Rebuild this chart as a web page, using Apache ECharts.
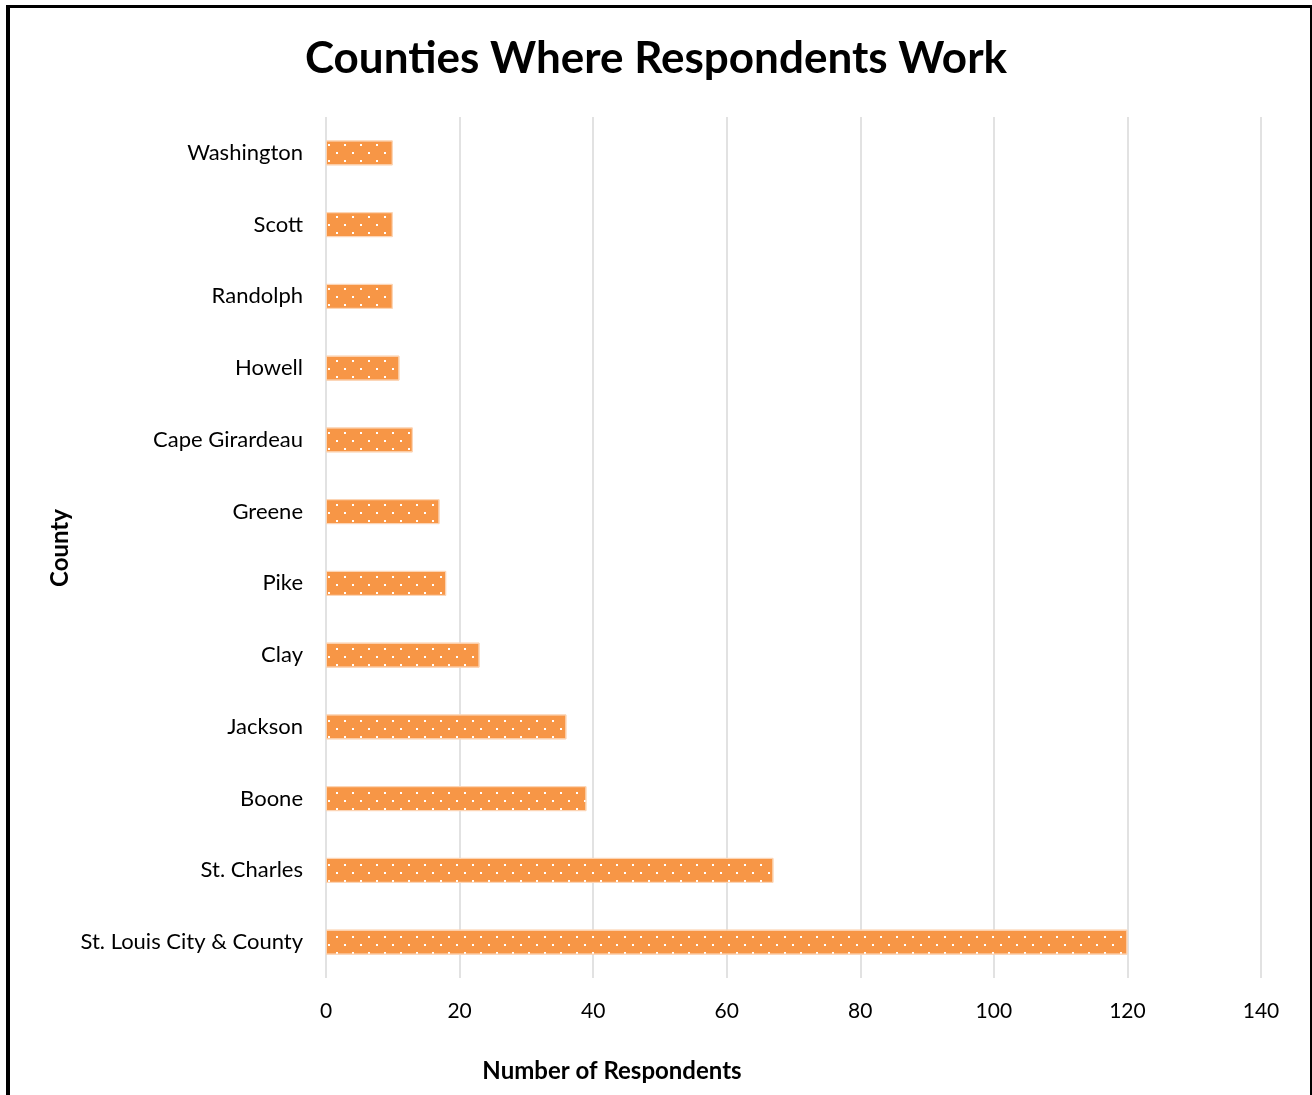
<!DOCTYPE html>
<html>
<head>
<meta charset="utf-8">
<script src="https://cdn.jsdelivr.net/npm/echarts@6/dist/echarts.min.js"></script>
<style>
  html, body { margin: 0; padding: 0; background: #fff; }
  #chart { width: 1312px; height: 1095px; }
  #frame {
    position: absolute; left: 6px; top: 5px; width: 1300px; height: 1088px;
    border-left: 4px solid #000; border-top: 3px solid #000;
    border-right: 4px solid #000; border-bottom: 1px solid #555;
    pointer-events: none;
  }
</style>
</head>
<body>
<div id="chart"></div>
<div id="frame"></div>
<script>
// counties, bottom to top (category axis starts at the bottom)
const counties = ['St. Louis City & County', 'St. Charles', 'Boone', 'Jackson', 'Clay', 'Pike',
  'Greene', 'Cape Girardeau', 'Howell', 'Randolph', 'Scott', 'Washington'];
const respondents = [120, 67, 39, 36, 23, 18, 17, 13, 11, 10, 10, 10];
const xTicks = [0, 20, 40, 60, 80, 100, 120, 140];

const font = 'Lato, "Open Sans", sans-serif';
const chart = echarts.init(document.getElementById('chart'));

const option = {
  backgroundColor: '#fff',
  title: {
    text: 'Counties Where Respondents Work',
    left: 'center',
    top: 32,
    textStyle: { fontFamily: font, fontSize: 44, fontWeight: 'bold', color: '#000' }
  },
  grid: { left: 326, right: 51, top: 117, bottom: 117 },
  xAxis: {
    type: 'value',
    min: xTicks[0],
    max: xTicks[xTicks.length - 1],
    interval: 20,
    axisLine: { show: false },
    axisTick: { show: false },
    axisLabel: { fontFamily: font, fontSize: 21, color: '#000', margin: 23 },
    splitLine: { lineStyle: { color: '#d9d9d9', width: 1.5 } }
  },
  yAxis: {
    type: 'category',
    data: counties,
    axisLine: { show: false },
    axisTick: { show: false },
    axisLabel: { fontFamily: font, fontSize: 22, color: '#000', margin: 23 }
  },
  graphic: [
    {
      type: 'text', x: 612, y: 1071,
      style: { text: 'Number of Respondents', font: 'bold 24px ' + font, fill: '#000', align: 'center', verticalAlign: 'middle' }
    },
    {
      type: 'text', x: 60, y: 548, rotation: Math.PI / 2,
      style: { text: 'County', font: 'bold 24px ' + font, fill: '#000', align: 'center', verticalAlign: 'middle' }
    }
  ],
  series: [{
    type: 'bar',
    data: respondents,
    barWidth: 25,
    itemStyle: {
      color: '#f79646',
      borderColor: '#fcd5b5',
      borderWidth: 1,
      decal: {
        symbol: 'rect',
        symbolSize: 1,
        color: '#ffffff',
        dashArrayX: [[2, 14], [0, 8, 2, 6]],
        dashArrayY: [2, 6],
        rotation: 0
      }
    }
  }]
};

chart.setOption(option);
</script>
</body>
</html>
